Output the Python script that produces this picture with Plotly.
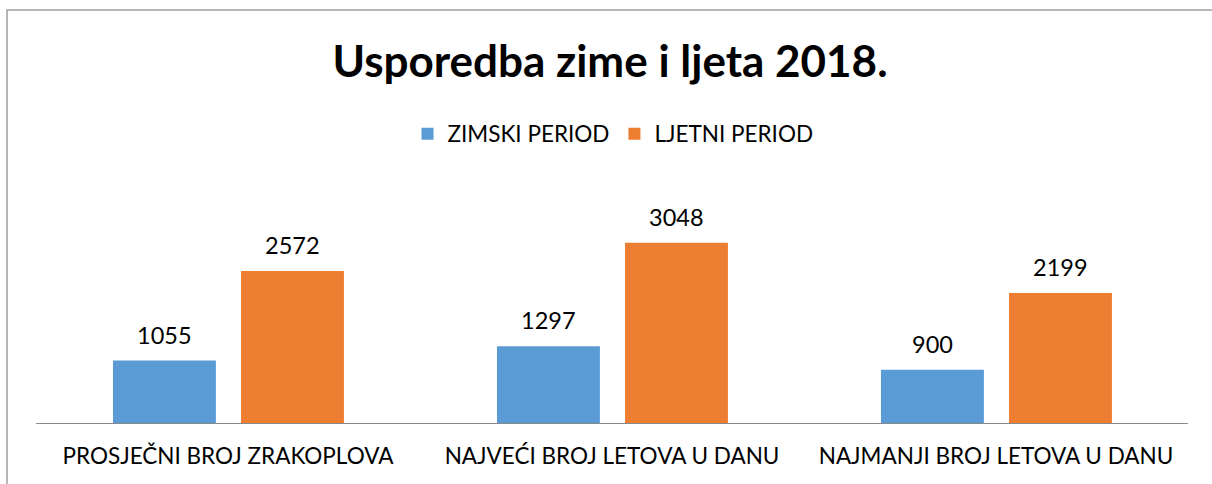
import plotly.graph_objects as go

categories = ["PROSJEČNI BROJ ZRAKOPLOVA", "NAJVEĆI BROJ LETOVA U DANU", "NAJMANJI BROJ LETOVA U DANU"]
zimski = [1055, 1297, 900]
ljetni = [2572, 3048, 2199]
series_names = ["ZIMSKI PERIOD", "LJETNI PERIOD"]
title_text = "Usporedba zime i ljeta 2018."

BLUE = "#5B9BD5"
ORANGE = "#ED7D31"
FONT = "Lato"

W, H = 1212, 484
ML, MR, MT, MB = 36, 24, 216, 61
bar_w = 0.268
offsets = [-0.2995, 0.0339]

fig = go.Figure()
for name, vals, col, off in zip(series_names, [zimski, ljetni], [BLUE, ORANGE], offsets):
    fig.add_trace(go.Bar(
        x=categories, y=vals, name=name,
        marker=dict(color=col, line=dict(width=0)),
        width=bar_w, offset=off,
        hoverinfo="x+y",
    ))

annotations = []
for vals, off in zip([zimski, ljetni], offsets):
    for i, v in enumerate(vals):
        annotations.append(dict(
            x=i + off + bar_w / 2, y=v, xref="x", yref="y",
            text=str(v), showarrow=False, yanchor="bottom",
            yshift=10, font=dict(family=FONT, size=23.5, color="#000000"),
        ))

pw = W - ML - MR
ph = H - MT - MB
fig.update_layout(
    width=W, height=H,
    margin=dict(l=ML, r=MR, t=MT, b=MB),
    paper_bgcolor="white", plot_bgcolor="white",
    title=dict(text=title_text, x=610 / W, xref="container", xanchor="center",
               y=1 - 62 / H, yref="container", yanchor="middle",
               font=dict(family=FONT, size=44, color="#000000", weight="bold")),
    legend=dict(orientation="h", x=613 / W, xref="container", xanchor="center",
                y=1 - 134 / H, yref="container", yanchor="middle",
                font=dict(family=FONT, size=22.5, color="#000000"),
                itemsizing="constant", tracegroupgap=0, itemwidth=30),
    showlegend=True,
    annotations=annotations,
    xaxis=dict(showline=True, linecolor="#898989", linewidth=1, showgrid=False,
               ticks="", tickfont=dict(family=FONT, size=22.5, color="#000000"),
               ticklabelstandoff=13, fixedrange=True),
    yaxis=dict(visible=False, range=[0, 3500], showgrid=False, zeroline=False),
    shapes=[dict(type="rect", xref="paper", yref="paper",
                 x0=(7 - ML) / pw, x1=(W + 5 - ML) / pw,
                 y0=-(H + 5 - (H - MB)) / ph, y1=((H - MB) - 10) / ph,
                 line=dict(color="#A0A0A0", width=1.5), layer="below")],
)

fig.write_html("out.html", config={"displayModeBar": False},
               post_script="document.body.style.margin='0';")
